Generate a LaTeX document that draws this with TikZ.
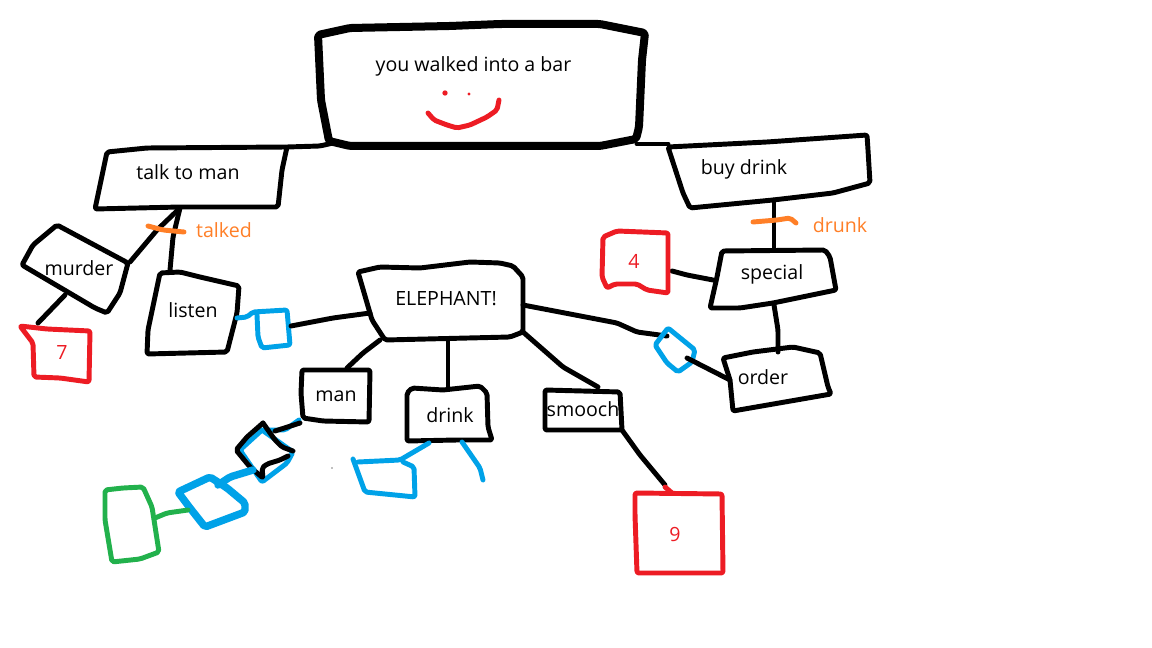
\documentclass[tikz,border=0pt]{standalone}
\usepackage{fontspec}
\setmainfont{Open Sans}
\definecolor{pred}{HTML}{ED1C24}
\definecolor{pblue}{HTML}{00A2E8}
\definecolor{porange}{HTML}{FF7F27}
\definecolor{pgreen}{HTML}{22B14C}
\tikzset{
  ink/.style={line width=3.7pt,line cap=round,line join=round,rounded corners=1.5pt},
  heavy/.style={ink,line width=6pt},
  redink/.style={ink,color=pred},
  blueink/.style={ink,color=pblue},
  bluethick/.style={ink,color=pblue,line width=5.6pt},
  orangeink/.style={ink,color=porange},
  greenink/.style={ink,color=pgreen},
  lab/.style={inner sep=0pt,font=\fontsize{14.7}{18}\selectfont},
}
\begin{document}
\begin{tikzpicture}[x=0.75pt,y=-0.75pt]
\useasboundingbox (0,0) rectangle (1152,648);
\fill[white] (0,0) rectangle (1152,648);
% top box
\draw[heavy] (318,35) -- (350,28) -- (450,26) -- (500,24) -- (600,24) -- (645,33) -- (642,60) -- (639,127) -- (636,139) -- (600,146) -- (350,146) -- (329,141) -- (321,100) -- cycle;
\draw[ink] (287,147) -- (320,146) -- (333,143);
\draw[ink] (637,144) -- (668,144);
% smile
\draw[redink] (428,113) -- (434,120) -- (447,125) -- (457,128) -- (470,125) -- (487,117) -- (497,110) -- (499,100);
\fill[pred] (445,93) circle (2pt);
\fill[pred] (469,94) circle (1.2pt);
% talk to man
\draw[ink] (107,152) -- (147,148) -- (287,147) -- (282,170) -- (278,207) -- (180,207) -- (95,209) -- cycle;
% murder
\draw[ink] (57,225) -- (128,263) -- (120,293) -- (107,313) -- (95,308) -- (22,265) -- (33,245) -- cycle;
\draw[ink] (130,262) -- (157,230) -- (180,208);
% listen
\draw[ink] (180,208) -- (173,237) -- (170,270);
\draw[ink] (160,273) -- (180,272) -- (200,277) -- (239,286) -- (237,313) -- (227,352) -- (187,353) -- (147,354) -- (148,330) -- cycle;
\draw[orangeink] (148,226) -- (163,230) -- (184,232);
% blue small
\draw[blueink] (237,318) -- (247,317) -- (253,312) -- (287,310) -- (290,345) -- (262,348) -- (258,337) -- (257,315);
\draw[ink] (291,326) -- (333,318) -- (370,313);
% red 7
\draw[redink] (20,326) -- (47,329) -- (90,331) -- (89,382) -- (60,378) -- (34,377) -- (33,343) -- cycle;
\draw[ink] (65,295) -- (38,323);
% elephant
\draw[ink] (358,272) -- (380,267) -- (420,268) -- (470,262) -- (500,263) -- (513,266) -- (523,277) -- (523,332) -- (510,337) -- (385,340) -- (372,320) -- cycle;
\draw[ink] (380,340) -- (363,353) -- (347,368);
\draw[ink] (448,340) -- (448,388);
\draw[ink] (523,332) -- (563,367) -- (598,387);
\draw[ink] (523,305) -- (617,323) -- (637,332) -- (667,336);
% man
\draw[ink] (302,370) -- (370,370) -- (369,422) -- (323,421) -- (303,418) -- (301,393) -- cycle;
\draw[blueink] (299,420) -- (285,430) -- (262,430) -- (293,452) -- (287,463) -- (262,482) -- (240,450) -- (262,430);
\draw[ink] (300,423) -- (275,431);
\draw[ink] (263,423) -- (275,440) -- (282,447) -- (293,451);
\draw[ink] (288,456) -- (280,460) -- (267,464) -- (262,468) -- (263,478) -- (250,467) -- (236,450) -- (247,437) -- (263,423);
\draw[bluethick] (253,470) -- (230,477) -- (218,485);
\draw[bluethick] (178,492) -- (210,477) -- (227,488) -- (245,503) -- (245,512) -- (205,527) -- (190,508) -- cycle;
\draw[greenink] (188,510) -- (167,513) -- (155,518);
\draw[greenink] (105,490) -- (123,488) -- (143,487) -- (152,507) -- (159,552) -- (140,559) -- (112,562) -- (105,520) -- cycle;
\fill[gray] (332,468) circle (0.6pt);
% drink
\draw[ink] (412,388) -- (443,390) -- (480,386) -- (487,393) -- (488,427) -- (492,440) -- (457,440) -- (407,441) -- (407,393) -- cycle;
\draw[blueink] (429,443) -- (400,460) -- (358,462);
\draw[blueink] (353,459) -- (365,492) -- (415,497) -- (414,467) -- (403,462);
\draw[blueink] (462,442) -- (480,468) -- (483,480);
% smooch
\draw[ink] (545,390) -- (620,392) -- (622,430) -- (545,430) -- cycle;
\draw[ink] (622,430) -- (640,455) -- (665,485);
\draw[redink] (665,487) -- (672,493);
\draw[redink] (635,493) -- (722,494) -- (723,573) -- (637,573) -- (635,515) -- cycle;
% buy drink
\draw[ink] (668,147) -- (767,142) -- (867,135) -- (868,150) -- (870,183) -- (833,193) -- (773,200) -- (690,208) -- (683,193) -- cycle;
\draw[ink] (774,200) -- (774,248);
\draw[orangeink] (753,222) -- (777,220) -- (790,218) -- (796,223);
% special
\draw[ink] (722,251) -- (825,250) -- (830,257) -- (836,290) -- (773,303) -- (740,308) -- (710,308) -- (717,277) -- cycle;
\draw[ink] (672,271) -- (687,275) -- (713,280);
\draw[redink] (603,237) -- (617,231) -- (668,233) -- (668,293) -- (647,290) -- (637,284) -- (615,284) -- (607,288) -- (602,277) -- cycle;
\draw[ink] (774,305) -- (778,330) -- (778,352);
% order
\draw[ink] (723,358) -- (753,352) -- (793,347) -- (820,353) -- (828,387) -- (831,394) -- (733,411) -- (730,380) -- cycle;
\draw[blueink] (668,328) -- (695,350) -- (692,362) -- (678,372) -- (667,363) -- (655,345) -- cycle;
\draw[ink] (687,358) -- (730,380);
% labels
\node[lab] (bar) at (473.5,66) {you walked into a bar};
\node[lab] (talk) at (188,172) {talk to man};
\node[lab] (buy) at (744,169) {buy drink};
\node[lab,text=porange] (talked) at (224,230) {talked};
\node[lab,text=porange] (drunk) at (840,225) {drunk};
\node[lab] (murder) at (79,268) {murder};
\node[lab] (listen) at (193,310) {listen};
\node[lab] (elephant) at (446,299) {ELEPHANT!};
\node[lab] (man) at (336,396) {man};
\node[lab] (drink) at (450,415) {drink};
\node[lab] (smooch) at (583,409) {smooch};
\node[lab] (order) at (763,377) {order};
\node[lab] (special) at (772,274) {special};
\node[lab,text=pred] (four) at (634,261) {4};
\node[lab,text=pred] (seven) at (62,353) {7};
\node[lab,text=pred] (nine) at (675,534) {9};
\end{tikzpicture}
\end{document}
